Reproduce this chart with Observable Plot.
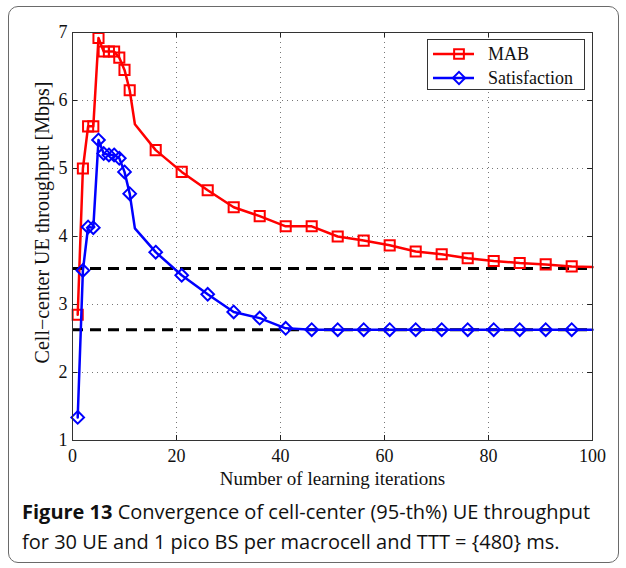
<!DOCTYPE html>
<html>
<head>
<meta charset="utf-8">
<script src="https://cdn.jsdelivr.net/npm/d3@7"></script>
<script src="https://cdn.jsdelivr.net/npm/@observablehq/plot@0.6"></script>
<style>
  html, body { margin: 0; padding: 0; background: #fff; }
  #wrap { position: relative; width: 626px; height: 568px; overflow: hidden; }
  #border { position: absolute; left: 8px; top: 6px; width: 611px; height: 557px; border: 1.5px solid #6a6a6a; border-radius: 10px; box-sizing: border-box; }
  #chart { position: absolute; left: 0; top: 0; }
  #legend { position: absolute; left: 427px; top: 39px; width: 158px; height: 51px; border: 1px solid #333; background: #fff; box-sizing: border-box; font-family: "Liberation Serif", serif; font-size: 18px; color: #111; }
  #legend .row { position: absolute; left: 4px; height: 22px; display: flex; align-items: center; }
  #legend svg { margin-right: 14px; }
  #caption { position: absolute; left: 22px; top: 497px; font-family: "Open Sans", sans-serif; font-size: 20px; line-height: 30px; color: #111; letter-spacing: 0px; }
  #caption b { font-weight: 700; }
</style>
</head>
<body>
<div id="wrap">
  <div id="border"></div>
  <div id="chart"></div>
  <div id="legend"></div>
  <div id="caption"><b>Figure 13</b> Convergence of cell-center (95-th%) UE throughput<br>for 30 UE and 1 pico BS per macrocell and TTT = {480} ms.</div>
</div>
<script>
// ---- data ----
const iterations = [1,2,3,4,5,6,7,8,9,10,11,12,16,21,26,31,36,41,46,51,56,61,66,71,76,81,86,91,96,100];
const markerIterations = [1,2,3,4,5,6,7,8,9,10,11,16,21,26,31,36,41,46,51,56,61,66,71,76,81,86,91,96];
const mabValues = [2.85,5.0,5.62,5.62,6.92,6.72,6.72,6.72,6.63,6.45,6.15,5.65,5.27,4.95,4.68,4.43,4.30,4.15,4.15,4.0,3.94,3.87,3.78,3.74,3.68,3.64,3.61,3.59,3.56,3.55];
const satValues = [1.34,3.5,4.14,4.13,5.42,5.22,5.2,5.2,5.15,4.95,4.63,4.12,3.77,3.43,3.15,2.89,2.80,2.65,2.63,2.63,2.63,2.63,2.63,2.63,2.63,2.63,2.63,2.63,2.63,2.63];
const referenceLevels = [3.53, 2.63];
const seriesNames = ["MAB", "Satisfaction"];
const xTicks = [0,20,40,60,80,100];
const yTicks = [1,2,3,4,5,6,7];
const xLabel = "Number of learning iterations";
const yLabel = "Cell\u2212center UE throughput [Mbps]";

const mab = iterations.map((x, i) => ({x, y: mabValues[i]}));
const sat = iterations.map((x, i) => ({x, y: satValues[i]}));
const mabM = mab.filter(d => markerIterations.includes(d.x));
const satM = sat.filter(d => markerIterations.includes(d.x));

const W = 626, H = 490, mL = 72, mR = 34, mT = 32, mB = 50;
const fH = H - mT - mB, fW = W - mL - mR;
const red = "#ff0000", blue = "#0000ff";

const chart = Plot.plot({
  width: W, height: H,
  marginLeft: mL, marginRight: mR, marginTop: mT, marginBottom: mB,
  style: {fontFamily: "Liberation Serif, Times New Roman, serif", fontSize: "18px", color: "#111", background: "transparent"},
  x: {domain: [0, 100]},
  y: {domain: [1, 7]},
  marks: [
    Plot.ruleX(xTicks.slice(1, -1), {x: d => d, stroke: "#777", strokeDasharray: "1,4", strokeWidth: 1}),
    Plot.ruleY(yTicks.slice(1, -1), {y: d => d, stroke: "#777", strokeDasharray: "1,4", strokeWidth: 1}),
    Plot.ruleY(referenceLevels, {y: d => d, stroke: "#000", strokeWidth: 3, strokeDasharray: "11,7"}),
    Plot.line(mab, {x: "x", y: "y", stroke: red, strokeWidth: 2.5}),
    Plot.dot(mabM, {x: "x", y: "y", symbol: "square", r: 5.7, stroke: red, strokeWidth: 2, fill: "none"}),
    Plot.line(sat, {x: "x", y: "y", stroke: blue, strokeWidth: 2.5}),
    Plot.dot(satM, {x: "x", y: "y", symbol: "diamond2", r: 5.7, stroke: blue, strokeWidth: 2, fill: "none"}),
    Plot.tickX(xTicks, {x: d => d, insetTop: fH - 5, stroke: "#222"}),
    Plot.tickX(xTicks, {x: d => d, insetBottom: fH - 5, stroke: "#222"}),
    Plot.tickY(yTicks, {y: d => d, insetRight: fW - 5, stroke: "#222"}),
    Plot.tickY(yTicks, {y: d => d, insetLeft: fW - 5, stroke: "#222"}),
    Plot.frame({stroke: "#333", strokeWidth: 1}),
    Plot.axisX(xTicks, {tickSize: 0, tickPadding: 9, tickFormat: "d", label: null}),
    Plot.axisX({tickSize: 0, ticks: [], label: xLabel, labelAnchor: "center", labelArrow: "none", labelOffset: 44, fontSize: 19}),
    Plot.axisY(yTicks, {tickSize: 0, tickPadding: 5, tickFormat: "d", label: null}),
    Plot.text([yLabel], {text: d => d, frameAnchor: "left", textAnchor: "middle", rotate: -90, dx: -30, dy: -14, fontSize: 20, fill: "#111"})
  ]
});
document.getElementById("chart").appendChild(chart);

// legend
const legend = document.getElementById("legend");
const entries = [
  {name: seriesNames[0], color: red, symbol: d3.symbolSquare},
  {name: seriesNames[1], color: blue, symbol: d3.symbolDiamond2}
];
entries.forEach((e, i) => {
  const row = document.createElement("div");
  row.className = "row";
  row.style.top = (i === 0 ? 3 : 27) + "px";
  const s = d3.create("svg").attr("width", 42).attr("height", 22);
  s.append("line").attr("x1", 1).attr("x2", 42).attr("y1", 11).attr("y2", 11).attr("stroke", e.color).attr("stroke-width", 2.5);
  s.append("path").attr("d", d3.symbol(e.symbol, Math.PI * 5.5 * 5.5)()).attr("transform", "translate(27,11)")
    .attr("fill", "none").attr("stroke", e.color).attr("stroke-width", 2);
  row.appendChild(s.node());
  const t = document.createElement("span");
  t.textContent = e.name;
  row.appendChild(t);
  legend.appendChild(row);
});
</script>
</body>
</html>
